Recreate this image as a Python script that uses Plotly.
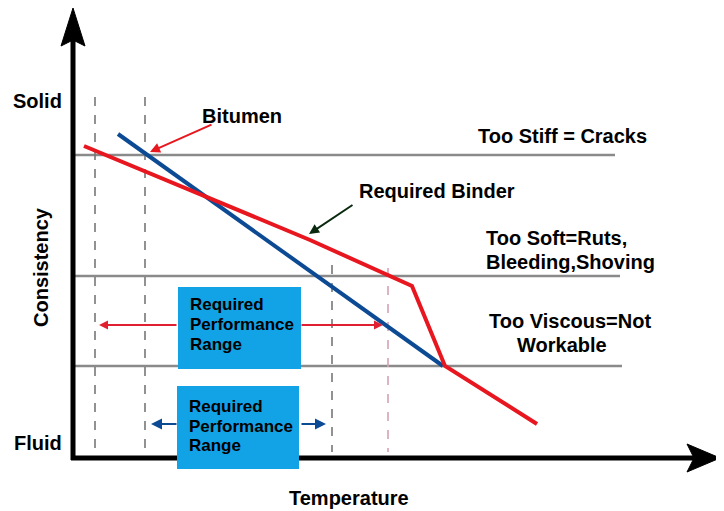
import plotly.graph_objects as go

# Schematic data (chart space = screen-pixel coordinates, y grows downward)
bitumen_x = [118, 443]
bitumen_y = [134, 366]
binder_x = [84, 310, 412, 445, 537]
binder_y = [146, 240, 286, 366, 424]

level_y = [155, 276, 366]
level_x_end = [615, 620, 622]
dash_x = [95, 145, 332]
dash_top = [97, 97, 265]

W, H = 724, 511
OFF = 8  # page body margin
FONT = "Liberation Sans, Arial, sans-serif"

fig = go.Figure()

shapes = []
for y, xe in zip(level_y, level_x_end):
    shapes.append(dict(type="line", x0=75, x1=xe, y0=y, y1=y,
                       line=dict(color="#8a8a8a", width=2.5), layer="below"))
for x, t in zip(dash_x, dash_top):
    shapes.append(dict(type="line", x0=x, x1=x, y0=t, y1=452,
                       line=dict(color="#777777", width=1.6, dash="dash"), layer="below"))
shapes.append(dict(type="line", x0=388, x1=388, y0=268, y1=452,
                   line=dict(color="#d8a0b8", width=1.6, dash="dash"), layer="below"))
# axes
shapes.append(dict(type="line", x0=73, x1=73, y0=460, y1=40, line=dict(color="black", width=5)))
shapes.append(dict(type="line", x0=71, x1=695, y0=458, y1=458, line=dict(color="black", width=5)))
shapes.append(dict(type="path", path="M 73 8 L 61 46 L 73 40 L 85 46 Z",
                   fillcolor="black", line=dict(color="black", width=1)))
shapes.append(dict(type="path", path="M 720 458 L 687 444 L 694 458 L 687 472 Z",
                   fillcolor="black", line=dict(color="black", width=1)))
# blue boxes
for x0, x1, y0, y1 in [(178, 301, 287, 369), (177, 299, 386, 469)]:
    shapes.append(dict(type="rect", x0=x0, x1=x1, y0=y0, y1=y1,
                       fillcolor="#12a2e6", line=dict(width=0), layer="above"))

fig.add_trace(go.Scatter(x=bitumen_x, y=bitumen_y, mode="lines",
                         line=dict(color="#0d4a94", width=4), hoverinfo="skip"))
fig.add_trace(go.Scatter(x=binder_x, y=binder_y, mode="lines",
                         line=dict(color="#e8161e", width=4), hoverinfo="skip"))

ann = []
def txt(x, y, s, size=20, anchor="center", angle=0):
    ann.append(dict(x=x, y=y, text="<b>" + s + "</b>", showarrow=False, xanchor=anchor,
                    yanchor="middle", textangle=angle,
                    font=dict(family=FONT, size=size, color="black")))

txt(37, 101, "Solid")
txt(38, 443, "Fluid")
txt(41, 267, "Consistency", angle=-90)
txt(349, 498, "Temperature")
txt(242, 116, "Bitumen")
txt(437, 191, "Required Binder")
txt(562, 136, "Too Stiff = Cracks")
txt(484, 238, "Too Soft=Ruts,", anchor="left")
txt(484, 262, "Bleeding,Shoving", anchor="left")
txt(487, 321, "Too Viscous=Not", anchor="left")
txt(562, 345, "Workable")
box_lines = ["Required", "Performance", "Range"]
for x0, ys in [(188, [304, 324, 344]), (187, [406, 426, 445])]:
    for s, y in zip(box_lines, ys):
        txt(x0, y, s, size=17, anchor="left")

def arrow(x_from, y_from, x_to, y_to, color, width=2, head=2, size=1.0):
    ann.append(dict(x=x_to, y=y_to, ax=x_from, ay=y_from, xref="x", yref="y",
                    axref="x", ayref="y", text="", showarrow=True, arrowhead=head,
                    arrowsize=size, arrowwidth=width, arrowcolor=color))

arrow(213, 124, 150, 152, "#e8161e", width=2)
arrow(354, 204, 309, 234, "#0a2a10", width=2)
arrow(178, 325, 99, 325, "#e02030", width=1.8)
arrow(300, 325, 383, 325, "#e02030", width=1.8)
arrow(178, 424, 151, 424, "#0d4a94", width=2.2)
arrow(300, 424, 326, 424, "#0d4a94", width=2.2)

fig.update_layout(
    width=W - OFF, height=H - OFF, margin=dict(l=0, r=0, t=0, b=0),
    paper_bgcolor="white", plot_bgcolor="white", showlegend=False,
    xaxis=dict(range=[OFF, W], visible=False, fixedrange=True),
    yaxis=dict(range=[H, OFF], visible=False, fixedrange=True),
    shapes=shapes, annotations=ann,
)
fig.write_html("out.html")
